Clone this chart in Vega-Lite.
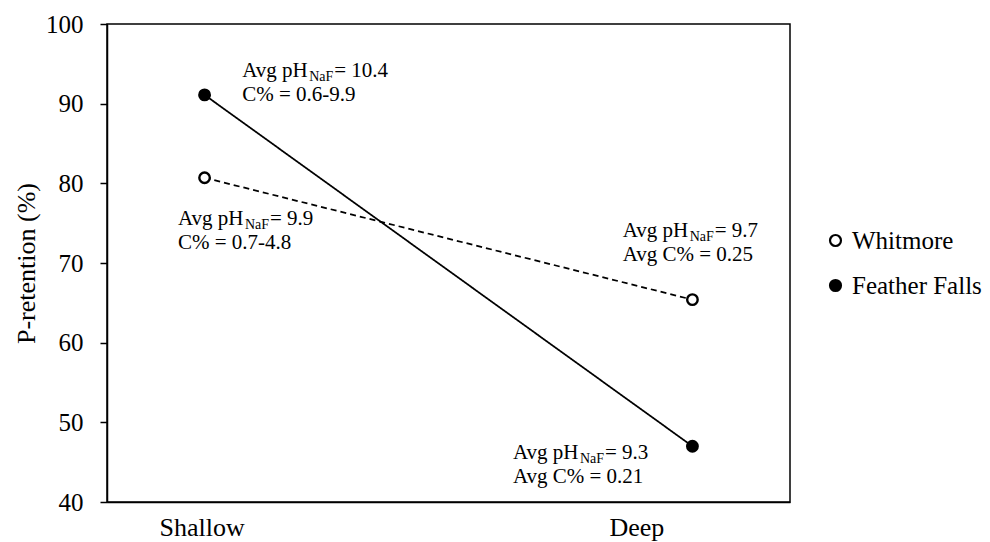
{
  "$schema": "https://vega.github.io/schema/vega-lite/v6.json",
  "width": 683,
  "height": 478,
  "autosize": {"type": "none"},
  "padding": {"left": 107, "top": 24, "right": 200, "bottom": 40},
  "background": "white",
  "config": {
    "font": "Liberation Serif",
    "view": {"stroke": "black", "strokeWidth": 1.5}
  },
  "datasets": {
    "retention": [
      {"site": "Whitmore", "depth": "Shallow", "depthNo": 1, "retention": 80.7},
      {"site": "Whitmore", "depth": "Deep", "depthNo": 2, "retention": 65.4},
      {"site": "Feather Falls", "depth": "Shallow", "depthNo": 1, "retention": 91.1},
      {"site": "Feather Falls", "depth": "Deep", "depthNo": 2, "retention": 47.0}
    ],
    "notes": [
      {"site": "Feather Falls", "depth": "Shallow", "noteX": 1.077, "noteY": 93.35, "lead": "Avg pH", "sub": "NaF", "ph": "= 10.4", "carbon": "C% = 0.6-9.9"},
      {"site": "Whitmore", "depth": "Shallow", "noteX": 0.9455, "noteY": 74.77, "lead": "Avg pH", "sub": "NaF", "ph": "= 9.9", "carbon": "C% = 0.7-4.8"},
      {"site": "Whitmore", "depth": "Deep", "noteX": 1.857, "noteY": 73.26, "lead": "Avg pH", "sub": "NaF", "ph": "= 9.7", "carbon": "Avg C% = 0.25"},
      {"site": "Feather Falls", "depth": "Deep", "noteX": 1.632, "noteY": 45.4, "lead": "Avg pH", "sub": "NaF", "ph": "= 9.3", "carbon": "Avg C% = 0.21"}
    ]
  },
  "layer": [
    {
      "data": {"name": "retention"},
      "mark": {"type": "line", "color": "black", "strokeWidth": 1.75},
      "encoding": {
        "x": {
          "field": "depthNo",
          "type": "quantitative",
          "scale": {"domain": [0.8, 2.2], "nice": false, "zero": false},
          "axis": {
            "title": null,
            "values": [1, 2],
            "labelExpr": "datum.value == 1 ? 'Shallow' : 'Deep'",
            "ticks": false,
            "grid": false,
            "labelFlush": false,
            "labelFontSize": 26,
            "labelColor": "black",
            "labelPadding": 12,
            "labelOffset": {"condition": {"test": "datum.value == 2", "value": -56}, "value": -3},
            "domainColor": "black",
            "domainWidth": 1.5
          }
        },
        "y": {
          "field": "retention",
          "type": "quantitative",
          "scale": {"domain": [40, 100], "nice": false, "zero": false},
          "axis": {
            "title": "P-retention (%)",
            "values": [40, 50, 60, 70, 80, 90, 100],
            "grid": false,
            "labelFlush": false,
            "tickSize": 7,
            "tickColor": "black",
            "tickWidth": 1.5,
            "labelPadding": 17,
            "labelFontSize": 25,
            "labelColor": "black",
            "titleFontSize": 26,
            "titleFontWeight": "normal",
            "titleColor": "black",
            "titlePadding": 6,
            "domainColor": "black",
            "domainWidth": 1.5
          }
        },
        "detail": {"field": "site", "type": "nominal"},
        "strokeDash": {
          "condition": {"test": "datum.site == 'Whitmore'", "value": [6, 4]},
          "value": [1, 0]
        }
      }
    },
    {
      "data": {"name": "retention"},
      "mark": {"type": "point", "shape": "circle", "stroke": "black", "strokeWidth": 2.4, "size": 110, "opacity": 1},
      "encoding": {
        "x": {"field": "depthNo", "type": "quantitative"},
        "y": {"field": "retention", "type": "quantitative"},
        "fill": {
          "field": "site",
          "type": "nominal",
          "scale": {"domain": ["Whitmore", "Feather Falls"], "range": ["white", "black"]},
          "legend": {
            "title": null,
            "orient": "none",
            "legendX": 716,
            "legendY": 204,
            "padding": 0,
            "symbolType": "circle",
            "symbolSize": 120,
            "symbolStrokeColor": "black",
            "symbolStrokeWidth": 2.2,
            "labelFontSize": 25,
            "labelColor": "black",
            "labelOffset": 4,
            "rowPadding": 19
          }
        }
      }
    },
    {
      "data": {"name": "notes"},
      "mark": {"type": "text", "align": "left", "baseline": "alphabetic", "fontSize": 21, "color": "black"},
      "encoding": {
        "x": {"field": "noteX", "type": "quantitative"},
        "y": {"field": "noteY", "type": "quantitative"},
        "text": {"field": "lead"}
      }
    },
    {
      "data": {"name": "notes"},
      "mark": {"type": "text", "align": "left", "baseline": "alphabetic", "fontSize": 14, "dx": 67, "dy": 4, "color": "black"},
      "encoding": {
        "x": {"field": "noteX", "type": "quantitative"},
        "y": {"field": "noteY", "type": "quantitative"},
        "text": {"field": "sub"}
      }
    },
    {
      "data": {"name": "notes"},
      "mark": {"type": "text", "align": "left", "baseline": "alphabetic", "fontSize": 21, "dx": 92, "color": "black"},
      "encoding": {
        "x": {"field": "noteX", "type": "quantitative"},
        "y": {"field": "noteY", "type": "quantitative"},
        "text": {"field": "ph"}
      }
    },
    {
      "data": {"name": "notes"},
      "mark": {"type": "text", "align": "left", "baseline": "alphabetic", "fontSize": 21, "dy": 24, "color": "black"},
      "encoding": {
        "x": {"field": "noteX", "type": "quantitative"},
        "y": {"field": "noteY", "type": "quantitative"},
        "text": {"field": "carbon"}
      }
    }
  ]
}
